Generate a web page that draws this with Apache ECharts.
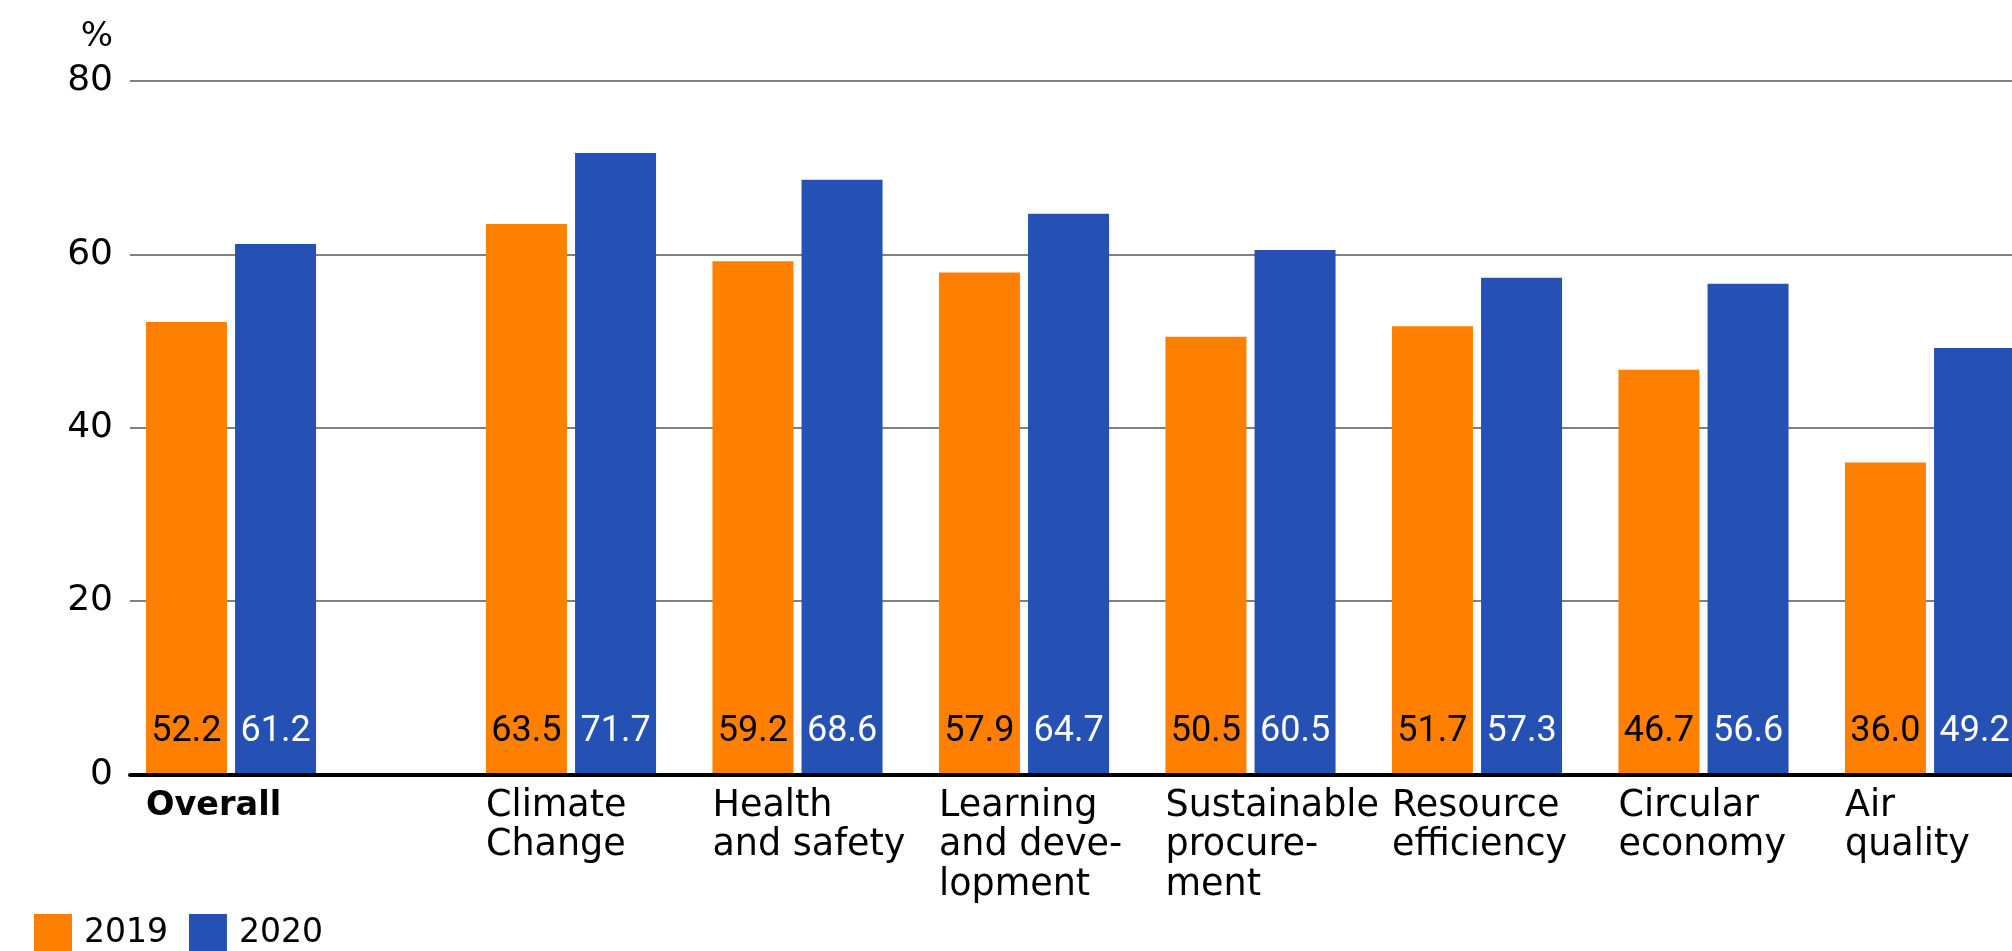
<!DOCTYPE html>
<html>
<head>
<meta charset="utf-8">
<script src="https://cdn.jsdelivr.net/npm/echarts@6/dist/echarts.min.js"></script>
<style>
html,body{margin:0;padding:0;background:#fff;}
#chart{width:2012px;height:951px;}
</style>
</head>
<body>
<div id="chart"></div>
<script>
// ---- data ----
const overallCategory = ['Overall'];
const categories = ['Climate Change', 'Health and safety', 'Learning and development', 'Sustainable procurement', 'Resource efficiency', 'Circular economy', 'Air quality'];
const categoryLabels = ['Climate\nChange', 'Health\nand safety', 'Learning\nand deve-\nlopment', 'Sustainable\nprocure-\nment', 'Resource\nefficiency', 'Circular\neconomy', 'Air\nquality'];
const overall2019 = [52.2];
const overall2020 = [61.2];
const values2019 = [63.5, 59.2, 57.9, 50.5, 51.7, 46.7, 36.0];
const values2020 = [71.7, 68.6, 64.7, 60.5, 57.3, 56.6, 49.2];
const yTicks = [0, 20, 40, 60, 80];
const seriesNames = ['2019', '2020'];

// ---- style ----
const ORANGE = '#FF8000';
const BLUE = '#2651B4';
const FONT = "'DejaVu Sans', sans-serif";
const NUMFONT = "Roboto, 'Open Sans', sans-serif";
const TOP = 81, BOTTOM = 176.5;

const richLabel = {
  a: {width: 170, align: 'left', fontSize: 36.5, lineHeight: 39.5, fontFamily: FONT, color: '#000'},
  b: {width: 170, align: 'left', fontSize: 33.5, lineHeight: 39.5, fontFamily: FONT, color: '#000', fontWeight: 'bold'}
};
function richFmt(style) {
  return function (v, i) {
    return v.split('\n').map(l => '{' + style + '|' + l + '}').join('\n');
  };
}

function valueLabel(color) {
  return {
    show: true, position: 'insideBottom', distance: 25,
    color: color, fontFamily: NUMFONT, fontSize: 36,
    formatter: p => Number(p.value).toFixed(1)
  };
}

const hiddenY = {type: 'value', min: 0, max: 80, interval: 20, show: false};
const barBase = {type: 'bar', barWidth: 81, barGap: '10%', animation: false};

const option = {
  backgroundColor: '#fff',
  animation: false,
  legend: {
    data: seriesNames,
    left: 34, top: 914, padding: 0,
    itemWidth: 38, itemHeight: 38, itemGap: 21,
    icon: 'rect',
    textStyle: {fontSize: 33, fontFamily: FONT, color: '#000', padding: [0, 0, 0, 7]}
  },
  grid: [
    {left: 130, right: -30, top: TOP, bottom: BOTTOM, outerBoundsMode: 'none', containLabel: false},
    {left: 130, width: 202, top: TOP, bottom: BOTTOM, outerBoundsMode: 'none', containLabel: false},
    {left: 457.75, width: 1585.5, top: TOP, bottom: BOTTOM, outerBoundsMode: 'none', containLabel: false}
  ],
  xAxis: [
    {gridIndex: 0, type: 'category', data: [''], z: 10,
     axisLine: {show: true, lineStyle: {color: '#000', width: 4}},
     axisTick: {show: false}, axisLabel: {show: false}, splitLine: {show: false}},
    {gridIndex: 1, type: 'category', data: overallCategory,
     axisLine: {show: false}, axisTick: {show: false},
     axisLabel: {margin: 12, formatter: richFmt('b'), rich: richLabel}},
    {gridIndex: 2, type: 'category', data: categoryLabels,
     axisLine: {show: false}, axisTick: {show: false},
     axisLabel: {margin: 12, interval: 0, formatter: richFmt('a'), rich: richLabel}}
  ],
  yAxis: [
    {gridIndex: 0, type: 'value', min: yTicks[0], max: yTicks[yTicks.length - 1], interval: 20,
     name: '%', nameLocation: 'end', nameGap: 44,
     nameTextStyle: {fontSize: 34, fontFamily: FONT, color: '#000', align: 'right', verticalAlign: 'middle', padding: [0, 17, 0, 0]},
     axisLine: {show: false}, axisTick: {show: false},
     axisLabel: {margin: 17, fontSize: 36, fontFamily: FONT, color: '#000'},
     splitLine: {show: true, lineStyle: {color: '#808080', width: 2}}},
    Object.assign({gridIndex: 1}, hiddenY),
    Object.assign({gridIndex: 2}, hiddenY)
  ],
  series: [
    Object.assign({}, barBase, {name: seriesNames[0], xAxisIndex: 1, yAxisIndex: 1, data: overall2019, itemStyle: {color: ORANGE}, label: valueLabel('#000')}),
    Object.assign({}, barBase, {name: seriesNames[1], xAxisIndex: 1, yAxisIndex: 1, data: overall2020, itemStyle: {color: BLUE}, label: valueLabel('#fff')}),
    Object.assign({}, barBase, {name: seriesNames[0], xAxisIndex: 2, yAxisIndex: 2, data: values2019, itemStyle: {color: ORANGE}, label: valueLabel('#000')}),
    Object.assign({}, barBase, {name: seriesNames[1], xAxisIndex: 2, yAxisIndex: 2, data: values2020, itemStyle: {color: BLUE}, label: valueLabel('#fff')})
  ]
};

const chart = echarts.init(document.getElementById('chart'), null, {renderer: 'canvas'});
chart.setOption(option);
</script>
</body>
</html>
